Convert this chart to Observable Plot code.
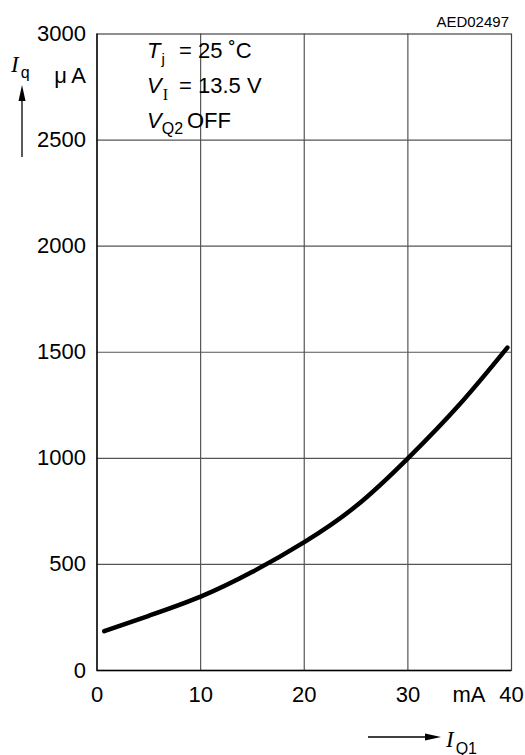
<!DOCTYPE html>
<html>
<head>
<meta charset="utf-8">
<script src="https://cdn.jsdelivr.net/npm/d3@7"></script>
<script src="https://cdn.jsdelivr.net/npm/@observablehq/plot@0.6"></script>
<style>
  html, body { margin: 0; padding: 0; background: white; }
  svg { display: block; }
</style>
</head>
<body>
<div id="chart"></div>
<script>
// Data
const xTicks = [0, 10, 20, 30, 40];
const yTicks = [0, 500, 1000, 1500, 2000, 2500, 3000];
const iq1 = [0.7, 5, 10, 15, 20, 25, 30, 35, 39.6];           // I_Q1 in mA
const iq  = [185, 258, 348, 465, 605, 775, 1000, 1255, 1522]; // I_q in µA

const curve = iq1.map((x, i) => ({x, y: iq[i]}));
const FONT = "'Liberation Sans', Arial, Helvetica, sans-serif";
const SERIF = "'Liberation Serif', 'Times New Roman', serif";

const plot = Plot.plot({
  width: 525,
  height: 755,
  marginLeft: 96.5,
  marginRight: 14,
  marginTop: 33.5,
  marginBottom: 85,
  x: {domain: [0, 40], axis: null},
  y: {domain: [0, 3000], axis: null},
  style: {fontFamily: FONT, background: "white", color: "black"},
  marks: [
    Plot.ruleX(xTicks.slice(1, -1), {stroke: "#555", strokeWidth: 1.2}),
    Plot.ruleY(yTicks.slice(1, -1), {stroke: "#555", strokeWidth: 1.2}),
    Plot.frame({stroke: "#444", strokeWidth: 1.2}),
    Plot.ruleX([0], {stroke: "black", strokeWidth: 1.3}),
    Plot.ruleY([0], {stroke: "black", strokeWidth: 1.3}),
    Plot.line(curve, {x: "x", y: "y", curve: "natural", stroke: "black", strokeWidth: 4.5}),
    Plot.text(yTicks, {x: 0, y: d => d, text: d => String(d), textAnchor: "end", dx: -11, fontSize: 22}),
    Plot.text(["\u03bc\u2009A"], {x: 0, y: 2800, text: d => d, textAnchor: "end", dx: -11, fontSize: 22}),
    Plot.text(xTicks, {x: d => d, y: 0, text: d => String(d), dy: 24, fontSize: 22}),
    Plot.text(["mA"], {x: 35.9, y: 0, text: d => d, dy: 24, fontSize: 22})
  ]
});

document.getElementById("chart").appendChild(plot);

// Annotations (rich text with subscripts and arrows)
const svg = d3.select(plot);
const g = svg.append("g").attr("fill", "black").attr("font-family", FONT)
  .attr("text-anchor", "start");

// Conditions block
const t1 = g.append("text").attr("x", 147).attr("y", 58).attr("font-size", 22);
t1.append("tspan").attr("font-style", "italic").text("T");
t1.append("tspan").attr("font-size", 15).attr("dx", 1).attr("dy", 6).text("j");
t1.append("tspan").attr("x", 179).attr("y", 58).text("= 25 \u02daC");

const t2 = g.append("text").attr("x", 147).attr("y", 93).attr("font-size", 22);
t2.append("tspan").attr("font-style", "italic").text("V");
t2.append("tspan").attr("font-size", 16).attr("font-family", SERIF).attr("dx", 1).attr("dy", 7).text("I");
t2.append("tspan").attr("x", 179).attr("y", 93).text("= 13.5 V");

const t3 = g.append("text").attr("x", 147).attr("y", 128).attr("font-size", 22);
t3.append("tspan").attr("font-style", "italic").text("V");
t3.append("tspan").attr("font-size", 16).attr("dy", 6).text("Q2");
t3.append("tspan").attr("x", 187).attr("y", 128).text("OFF");

// Code
g.append("text").attr("x", 509).attr("y", 27).attr("text-anchor", "end")
  .attr("font-size", 15).text("AED02497");

// Y-axis label and arrow
const yl = g.append("text").attr("x", 11).attr("y", 72).attr("font-size", 23);
yl.append("tspan").attr("font-family", SERIF).attr("font-style", "italic").text("I");
yl.append("tspan").attr("font-size", 16).attr("dx", 2).attr("dy", 6).text("q");
g.append("line").attr("x1", 22).attr("x2", 22).attr("y1", 157).attr("y2", 98)
  .attr("stroke", "black").attr("stroke-width", 1.3);
g.append("path").attr("d", "M22,85 L25.5,101 L18.5,101 Z");

// X-axis label and arrow
g.append("line").attr("x1", 368).attr("x2", 428).attr("y1", 737).attr("y2", 737)
  .attr("stroke", "black").attr("stroke-width", 1.3);
g.append("path").attr("d", "M441,737 L425,733.5 L425,740.5 Z");
const xl = g.append("text").attr("x", 446).attr("y", 747).attr("font-size", 23);
xl.append("tspan").attr("font-family", SERIF).attr("font-style", "italic").text("I");
xl.append("tspan").attr("font-size", 16).attr("dx", 2).attr("dy", 7).text("Q1");
</script>
</body>
</html>
